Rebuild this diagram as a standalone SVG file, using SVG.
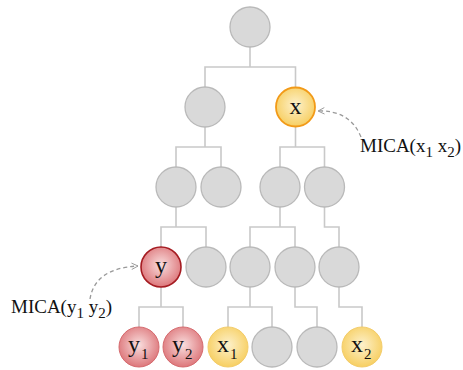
<svg xmlns="http://www.w3.org/2000/svg" width="463" height="370" viewBox="0 0 463 370">
<defs>
<radialGradient id="gRed" cx="50%" cy="45%" r="55%">
<stop offset="0" stop-color="#f9dede"/>
<stop offset="1" stop-color="#dd777b"/>
</radialGradient>
<radialGradient id="gYel" cx="50%" cy="45%" r="55%">
<stop offset="0" stop-color="#fdf1cc"/>
<stop offset="1" stop-color="#f7cf62"/>
</radialGradient>
<marker id="arr" viewBox="0 0 10 10" refX="9" refY="5" markerWidth="8" markerHeight="8" orient="auto" markerUnits="userSpaceOnUse">
<path d="M1,1 L9,5 L1,9" fill="none" stroke="#999" stroke-width="1.2"/>
</marker>
<style>
.grey{fill:#d9d9d9;stroke:#b9b9b9;stroke-width:1.3}
.red{fill:url(#gRed);stroke:#d56a6e;stroke-width:1}
.redS{fill:url(#gRed);stroke:#a51c22;stroke-width:1.6}
.yel{fill:url(#gYel);stroke:#f3cc6a;stroke-width:1}
.yelS{fill:url(#gYel);stroke:#f29a18;stroke-width:1.8}
.edge{fill:none;stroke:#c9c9c9;stroke-width:1.6}
.dash{fill:none;stroke:#999;stroke-width:1.3;stroke-dasharray:4 3}
text{font-family:"Liberation Serif","Times New Roman",serif;fill:#111}
.lbl{font-size:24px;text-anchor:middle}
.nl{font-size:24px}
.sub{font-size:15px}
.mica{font-size:19px}
</style>
</defs>
<g id="connectors">
<path class="edge" d="M250,47 V67 M205,87 V67 H295.5 V87"/>
<path class="edge" d="M205,127 V147 M176,167 V147 H221 V167"/>
<path class="edge" d="M295.5,127 V147 M280,167 V147 H324.5 V167"/>
<path class="edge" d="M176,207 V227 M161,247 V227 H206 V247"/>
<path class="edge" d="M280,207 V227 M250,247 V227 H295 V247"/>
<path class="edge" d="M324.5,207 V227 H339 V247"/>
<path class="edge" d="M161,287 V307 M139,327 V307 H183 V327"/>
<path class="edge" d="M250,287 V307 M228,327 V307 H272 V327"/>
<path class="edge" d="M295,287 V307 H317 V327"/>
<path class="edge" d="M339,287 V307 H362 V327"/>
<path class="dash" d="M361,137 Q350,110 318,111" marker-end="url(#arr)"/>
<path class="dash" d="M90,299 Q95,268 138,266" marker-end="url(#arr)"/>
</g>
<g id="root"><circle class="grey" cx="250" cy="27" r="20"/></g>
<g id="n1a"><circle class="grey" cx="205" cy="107" r="20"/></g>
<g id="nx"><circle class="yelS" cx="295.5" cy="107" r="19.5"/><text class="lbl" x="295.5" y="114">x</text></g>
<g id="n2a"><circle class="grey" cx="176" cy="187" r="20"/></g>
<g id="n2b"><circle class="grey" cx="221" cy="187" r="20"/></g>
<g id="n2c"><circle class="grey" cx="280" cy="187" r="20"/></g>
<g id="n2d"><circle class="grey" cx="324.5" cy="187" r="20"/></g>
<g id="ny"><circle class="redS" cx="161" cy="267" r="20"/><text class="lbl" x="161" y="273">y</text></g>
<g id="n3b"><circle class="grey" cx="206" cy="267" r="20"/></g>
<g id="n3c"><circle class="grey" cx="250" cy="267" r="20"/></g>
<g id="n3d"><circle class="grey" cx="295" cy="267" r="20"/></g>
<g id="n3e"><circle class="grey" cx="339" cy="267" r="20"/></g>
<g id="ny1"><circle class="red" cx="139" cy="347" r="20"/><text class="nl" x="128" y="352">y</text><text class="sub" x="141" y="359">1</text></g>
<g id="ny2"><circle class="red" cx="183" cy="347" r="20"/><text class="nl" x="172" y="352">y</text><text class="sub" x="185" y="359">2</text></g>
<g id="nx1"><circle class="yel" cx="228" cy="347" r="20"/><text class="nl" x="217" y="352">x</text><text class="sub" x="230" y="359">1</text></g>
<g id="n4d"><circle class="grey" cx="272" cy="347" r="20"/></g>
<g id="n4e"><circle class="grey" cx="317" cy="347" r="20"/></g>
<g id="nx2"><circle class="yel" cx="362" cy="347" r="20"/><text class="nl" x="351" y="352">x</text><text class="sub" x="364" y="359">2</text></g>
<g id="labels">
<text class="mica" x="360" y="152">MICA(x<tspan class="sub" dy="5">1</tspan><tspan dy="-5"> x</tspan><tspan class="sub" dy="5">2</tspan><tspan dy="-5">)</tspan></text>
<text class="mica" x="11" y="313">MICA(y<tspan class="sub" dy="5">1</tspan><tspan dy="-5"> y</tspan><tspan class="sub" dy="5">2</tspan><tspan dy="-5">)</tspan></text>
</g>
</svg>
